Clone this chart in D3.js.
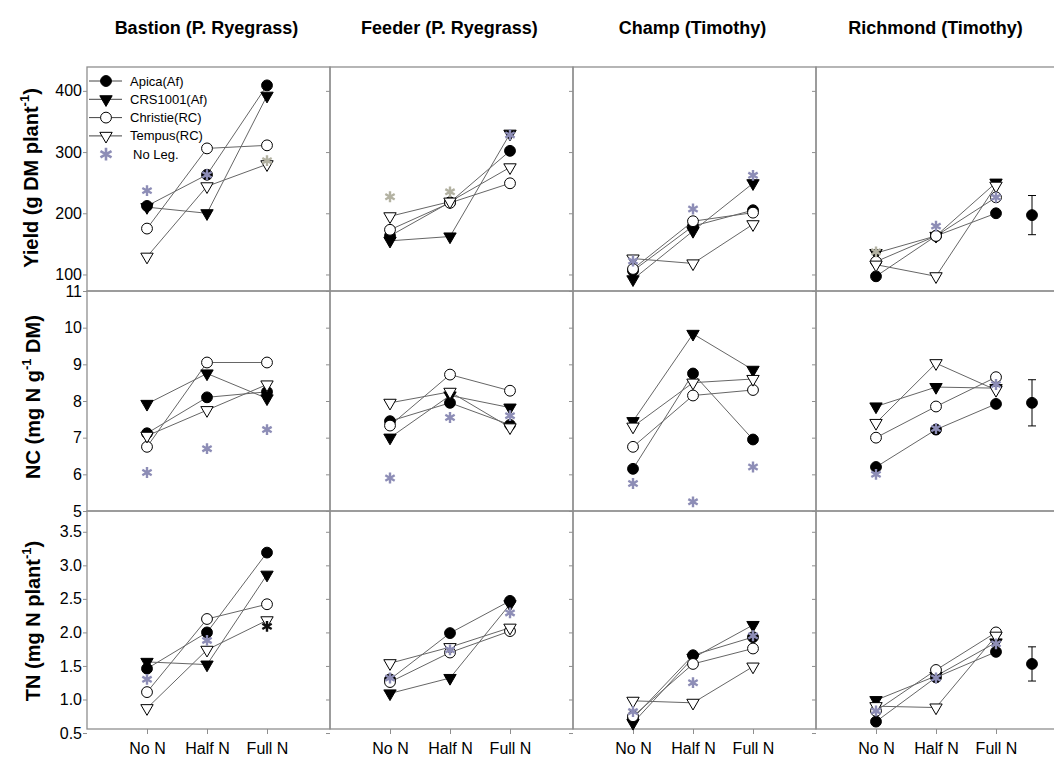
<!DOCTYPE html>
<html><head><meta charset="utf-8">
<script src="https://cdn.jsdelivr.net/npm/d3@7"></script>
<style>
body{margin:0;background:#fff;}
svg{display:block;}
text{font-family:Arial,"Liberation Sans",sans-serif;fill:#000;}
</style>
</head><body>
<svg id="chart" width="1054" height="763"></svg>
<script>
// ---------------- DATA ----------------
const categories = ["No N", "Half N", "Full N"];
const cultivars = ["Bastion (P. Ryegrass)", "Feeder (P. Ryegrass)", "Champ (Timothy)", "Richmond (Timothy)"];
const seriesNames = ["Apica(Af)", "CRS1001(Af)", "Christie(RC)", "Tempus(RC)"];
const starLabel = "No Leg.";

const yieldTicks = [100, 200, 300, 400];
const ncTicks = [5, 6, 7, 8, 9, 10, 11];
const tnTicks = [0.5, 1.0, 1.5, 2.0, 2.5, 3.0, 3.5];

// values per cultivar (Bastion, Feeder, Champ, Richmond) x [No N, Half N, Full N]
const yieldApica    = [[212, 263, 409], [163, 218, 302], [106, 179, 205], [97, 163, 200]];
const yieldCRS1001  = [[210, 200, 392], [155, 162, 330], [92, 171, 249],  [135, 163, 250]];
const yieldChristie = [[175, 306, 311], [173, 217, 249], [109, 187, 201], [121, 163, 226]];
const yieldTempus   = [[129, 244, 280], [195, 219, 275], [126, 118, 182], [116, 97, 245]];
const yieldNoLeg    = [[237, 263, 286], [227, 235, 328], [122, 207, 262], [137, 179, 226]];
const yieldNoLegKind = [["a","a","b"], ["b","b","a"], ["a","a","a"], ["b","a","a"]];

const ncApica    = [[7.12, 8.10, 8.25], [7.45, 7.95, 7.35], [6.15, 8.75, 6.95], [6.20, 7.22, 7.92]];
const ncCRS1001  = [[7.92, 8.75, 8.07], [7.00, 8.15, 7.82], [7.45, 9.83, 8.85], [7.85, 8.38, 8.35]];
const ncChristie = [[6.75, 9.05, 9.05], [7.33, 8.72, 8.28], [6.75, 8.15, 8.30], [7.00, 7.85, 8.65]];
const ncTempus   = [[7.05, 7.75, 8.45], [7.95, 8.25, 7.28], [7.30, 8.50, 8.60], [7.40, 9.03, 8.30]];
const ncNoLeg    = [[6.05, 6.70, 7.22], [5.90, 7.55, 7.60], [5.75, 5.25, 6.20], [6.00, 7.25, 8.45]];
const ncNoLegKind = [["a","a","a"], ["a","a","a"], ["a","a","a"], ["a","a","a"]];

const tnApica    = [[1.46, 2.00, 3.19], [1.30, 1.99, 2.47], [0.72, 1.66, 1.93], [0.67, 1.33, 1.71]];
const tnCRS1001  = [[1.56, 1.52, 2.86], [1.09, 1.32, 2.42], [0.65, 1.62, 2.11], [0.99, 1.35, 1.85]];
const tnChristie = [[1.11, 2.20, 2.42], [1.26, 1.70, 2.02], [0.75, 1.53, 1.76], [0.83, 1.44, 2.00]];
const tnTempus   = [[0.87, 1.74, 2.18], [1.54, 1.78, 2.07], [0.98, 0.95, 1.49], [0.90, 0.88, 1.95]];
const tnNoLeg    = [[1.30, 1.88, 2.09], [1.32, 1.74, 2.29], [0.82, 1.25, 1.95], [0.83, 1.32, 1.83]];
const tnNoLegKind = [["a","a","c"], ["a","a","a"], ["a","a","a"], ["a","a","a"]];

// mean +/- SE marker shown in the Richmond column (Yield, NC, TN)
const seMean = [197, 7.95, 1.53];
const seHalf = [32, 0.63, 0.255];

// ---------------- LAYOUT ----------------
const svg = d3.select("#chart");
const colLeft0 = 87, colW = 243;
const rowTops = [67, 291, 511], rowBottoms = [291, 511, 729];

const rows = [
  { label: ["Yield (g DM plant", "-1", ")"], ticks: yieldTicks, domain: [73, 439], fmt: d3.format("d"),
    series: [yieldApica, yieldCRS1001, yieldChristie, yieldTempus], stars: yieldNoLeg, kinds: yieldNoLegKind, labelX: 31, labelY: 178 },
  { label: ["NC (mg N g", "-1", " DM)"], ticks: ncTicks, domain: [5, 11], fmt: d3.format("d"),
    series: [ncApica, ncCRS1001, ncChristie, ncTempus], stars: ncNoLeg, kinds: ncNoLegKind, labelX: 33, labelY: 397 },
  { label: ["TN (mg N plant", "-1", ")"], ticks: tnTicks, domain: [0.56, 3.81], fmt: d3.format(".1f"),
    series: [tnApica, tnCRS1001, tnChristie, tnTempus], stars: tnNoLeg, kinds: tnNoLegKind, labelX: 33, labelY: 621 }
];

const borderColor = "#8f8f8f";
const lineColor = "#666";
const starColor = d3.scaleOrdinal().domain(["a","b","c"]).range(["#8d8db6", "#b3b2a2", "#111"]);

// marker generators
const symCircle = d3.symbol().type(d3.symbolCircle).size(92)();
const symTri = d3.symbol().type(d3.symbolTriangle).size(66)();
const symStar = d3.symbol().type(d3.symbolAsterisk).size(82)();
const symStarBig = d3.symbol().type(d3.symbolAsterisk).size(115)();
const markerStyle = [
  { path: symCircle, fill: "#000", rot: 0 },
  { path: symTri, fill: "#000", rot: 180 },
  { path: symCircle, fill: "#fff", rot: 0 },
  { path: symTri, fill: "#fff", rot: 180 }
];
const drawOrder = [1, 0, 2, 3];

// column titles
cultivars.forEach((c, ci) => {
  svg.append("text")
    .attr("x", colLeft0 + ci * colW + colW / 2 - 2).attr("y", 34)
    .attr("text-anchor", "middle").attr("font-size", 18).attr("font-weight", "bold")
    .text(c);
});

rows.forEach((row, ri) => {
  const y = d3.scaleLinear().domain(row.domain).range([rowBottoms[ri], rowTops[ri]]);

  // row axis title
  const t = svg.append("text")
    .attr("transform", `translate(${row.labelX},${row.labelY}) rotate(-90)`)
    .attr("text-anchor", "middle").attr("dy", "0.35em")
    .attr("font-size", 20).attr("font-weight", "bold");
  t.append("tspan").text(row.label[0]);
  t.append("tspan").attr("dy", -9).attr("font-size", 13).text(row.label[1]);
  t.append("tspan").attr("dy", 9).text(row.label[2]);

  cultivars.forEach((c, ci) => {
    const left = colLeft0 + ci * colW;
    const x = d3.scaleLinear().domain([0, 2]).range([left + 60, left + 180]);
    const g = svg.append("g");

    // panel border
    g.append("rect")
      .attr("x", left).attr("y", rowTops[ri])
      .attr("width", colW).attr("height", rowBottoms[ri] - rowTops[ri])
      .attr("fill", "none").attr("stroke", borderColor).attr("stroke-width", 1.3);

    // left axis ticks
    const ax = g.append("g").attr("transform", `translate(${left},0)`)
      .call(d3.axisLeft(y).tickValues(row.ticks).tickSize(4).tickPadding(1)
        .tickFormat(ci === 0 ? row.fmt : () => ""));
    ax.select(".domain").remove();
    ax.selectAll("line").attr("stroke", borderColor);
    ax.selectAll("text").attr("font-size", 16).attr("font-family", "Arial, Liberation Sans, sans-serif");

    // bottom axis on last row
    if (ri === rows.length - 1) {
      const bx = g.append("g").attr("transform", `translate(0,${rowBottoms[ri]})`)
        .call(d3.axisBottom(x).tickValues([0, 1, 2]).tickSize(5).tickPadding(9)
          .tickFormat(i => categories[i]));
      bx.select(".domain").remove();
      bx.selectAll("line").attr("stroke", borderColor);
      bx.selectAll("text").attr("font-size", 16).attr("font-family", "Arial, Liberation Sans, sans-serif");
    }

    const line = d3.line().x((d, i) => x(i)).y(d => y(d));
    // connecting lines
    drawOrder.forEach(si => {
      g.append("path").datum(row.series[si][ci])
        .attr("d", line).attr("fill", "none")
        .attr("stroke", lineColor).attr("stroke-width", 1);
    });
    // markers
    drawOrder.forEach(si => {
      const ms = markerStyle[si];
      g.selectAll(null).data(row.series[si][ci]).enter().append("path")
        .attr("d", ms.path)
        .attr("transform", (d, i) => `translate(${x(i)},${y(d)}) rotate(${ms.rot})`)
        .attr("fill", ms.fill).attr("stroke", "#000").attr("stroke-width", 1);
    });
    // no-legume stars
    g.selectAll(null).data(row.stars[ci]).enter().append("path")
      .attr("d", symStar)
      .attr("transform", (d, i) => `translate(${x(i)},${y(d)})`)
      .attr("fill", "none")
      .attr("stroke", (d, i) => starColor(row.kinds[ci][i]))
      .attr("stroke-width", 2.4);

    // mean +/- SE in last column
    if (ci === cultivars.length - 1) {
      const ex = x(2.6);
      const m = seMean[ri], s = seHalf[ri];
      g.append("line").attr("x1", ex).attr("x2", ex).attr("y1", y(m - s)).attr("y2", y(m + s))
        .attr("stroke", "#000").attr("stroke-width", 1);
      [m - s, m + s].forEach(v => {
        g.append("line").attr("x1", ex - 4).attr("x2", ex + 4).attr("y1", y(v)).attr("y2", y(v))
          .attr("stroke", "#000").attr("stroke-width", 1);
      });
      g.append("path").attr("d", symCircle).attr("transform", `translate(${ex},${y(m)})`)
        .attr("fill", "#000").attr("stroke", "#000");
    }
  });
});

// legend (inside first panel)
const lg = svg.append("g");
const legendItems = seriesNames.map((n, i) => ({ name: n, style: markerStyle[i] }));
legendItems.forEach((it, i) => {
  const ly = 81 + i * 18.3;
  lg.append("line").attr("x1", 89).attr("x2", 122).attr("y1", ly).attr("y2", ly)
    .attr("stroke", "#444").attr("stroke-width", 1);
  lg.append("path").attr("d", it.style.path)
    .attr("transform", `translate(106,${ly}) rotate(${it.style.rot})`)
    .attr("fill", it.style.fill).attr("stroke", "#000").attr("stroke-width", 1);
  lg.append("text").attr("x", 130).attr("y", ly).attr("dy", "0.35em")
    .attr("font-size", 13).text(it.name);
});
{
  const ly = 81 + 4 * 18.3;
  lg.append("path").attr("d", symStarBig).attr("transform", `translate(106,${ly})`)
    .attr("fill", "none").attr("stroke", starColor("a")).attr("stroke-width", 2.6);
  lg.append("text").attr("x", 133).attr("y", ly).attr("dy", "0.35em")
    .attr("font-size", 13).text(starLabel);
}
</script>
</body></html>
